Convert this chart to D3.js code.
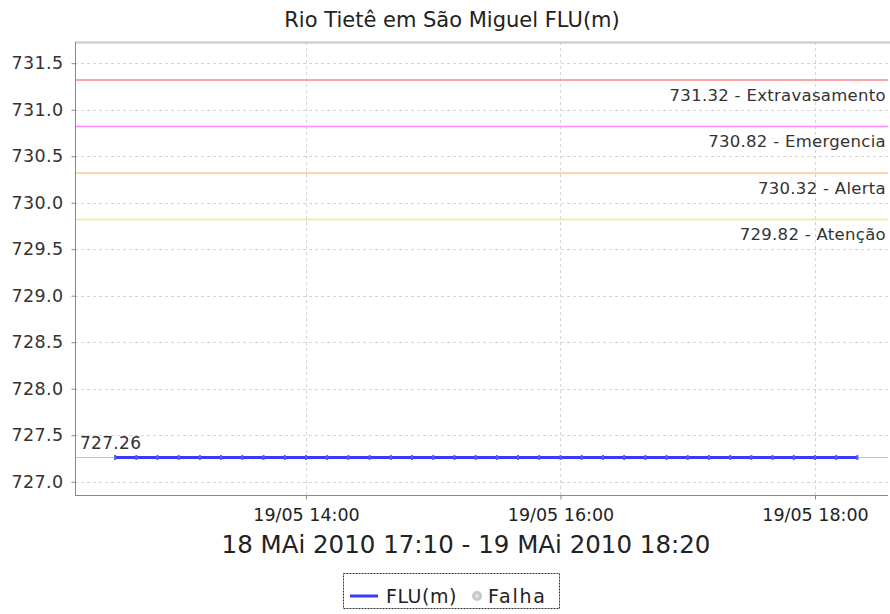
<!DOCTYPE html>
<html>
<head>
<meta charset="utf-8">
<script src="https://cdn.jsdelivr.net/npm/d3@7"></script>
<style>
  html, body { margin: 0; padding: 0; background: #fff; }
  svg { display: block; }
  text { font-family: "DejaVu Sans", "Liberation Sans", sans-serif; }
</style>
</head>
<body>
<svg id="chart" width="890" height="614"></svg>
<script>
// ---- data ----
const chartTitle = "Rio Tietê em São Miguel FLU(m)";
const periodLabel = "18 MAi 2010 17:10 - 19 MAi 2010 18:20";
const seriesName = "FLU(m)";
const failName = "Falha";
const startTime = "2010-05-19T12:30:00";
const stepMinutes = 10;
const fluValues = [727.26,727.26,727.26,727.26,727.26,727.26,727.26,727.26,727.26,727.26,
                   727.26,727.26,727.26,727.26,727.26,727.26,727.26,727.26,727.26,727.26,
                   727.26,727.26,727.26,727.26,727.26,727.26,727.26,727.26,727.26,727.26,
                   727.26,727.26,727.26,727.26,727.26,727.26];
const lastValue = 727.26;
const thresholdValues = [731.32, 730.82, 730.32, 729.82];
const thresholdNames = ["Extravasamento", "Emergencia", "Alerta", "Atenção"];
const thresholdColors = ["#ff8a8a", "#ff88ff", "#ffc890", "#f4ec80"];
const yTicks = [727.0, 727.5, 728.0, 728.5, 729.0, 729.5, 730.0, 730.5, 731.0, 731.5];
const xTicks = ["2010-05-19T14:00:00", "2010-05-19T16:00:00", "2010-05-19T18:00:00"];
const xDomain = ["2010-05-19T12:11:06", "2010-05-19T18:34:25"];
const yDomain = [726.857, 731.728];

// ---- layout ----
const svg = d3.select("#chart");
const pLeft = 75, pRight = 888, pTop = 42, pBottom = 495;

const x = d3.scaleTime().domain(xDomain.map(d => new Date(d))).range([pLeft, pRight]);
const y = d3.scaleLinear().domain(yDomain).range([pBottom, pTop]);

const t0 = new Date(startTime).getTime();
const data = fluValues.map((v, i) => ({ t: new Date(t0 + i * stepMinutes * 60000), v }));

// gridlines
const grid = svg.append("g");
grid.selectAll(".gy").data(yTicks).join("line")
  .attr("x1", pLeft).attr("x2", pRight)
  .attr("y1", d => Math.round(y(d)) + 0.5).attr("y2", d => Math.round(y(d)) + 0.5)
  .attr("stroke", "#d4d4d4").attr("stroke-width", 1).attr("stroke-dasharray", "3,3");
grid.selectAll(".gx").data(xTicks).join("line")
  .attr("x1", d => Math.round(x(new Date(d))) + 0.5).attr("x2", d => Math.round(x(new Date(d))) + 0.5)
  .attr("y1", pTop).attr("y2", pBottom)
  .attr("stroke", "#d4d4d4").attr("stroke-width", 1).attr("stroke-dasharray", "3,3");

// top border
svg.append("line").attr("x1", pLeft).attr("x2", 890).attr("y1", pTop + 0.5).attr("y2", pTop + 0.5)
  .attr("stroke", "#c8c8c8").attr("stroke-width", 2);

// threshold lines + labels
const th = svg.append("g");
th.selectAll("line").data(thresholdValues).join("line")
  .attr("x1", pLeft).attr("x2", pRight)
  .attr("y1", d => y(d)).attr("y2", d => y(d))
  .attr("stroke", (d, i) => thresholdColors[i]).attr("stroke-width", 1.6);
th.selectAll("text").data(thresholdValues).join("text")
  .attr("x", 886).attr("y", d => y(d) + 21)
  .attr("text-anchor", "end").attr("font-size", 16.5).attr("fill", "#333")
  .attr("letter-spacing", 0.3)
  .text((d, i) => d3.format(".2f")(d) + " - " + thresholdNames[i]);

// last value reference line
svg.append("line").attr("x1", pLeft).attr("x2", pRight)
  .attr("y1", y(lastValue)).attr("y2", y(lastValue))
  .attr("stroke", "#c4c4c4").attr("stroke-width", 1.2);
svg.append("text").attr("x", 80).attr("y", y(lastValue) - 9)
  .attr("font-size", 17).attr("fill", "#333").attr("letter-spacing", 0.3)
  .text(d3.format(".2f")(lastValue));

// series line
const line = d3.line().x(d => x(d.t)).y(d => y(d.v));
svg.append("path").datum(data).attr("d", line)
  .attr("fill", "none").attr("stroke", "#3a3aff").attr("stroke-width", 3);
svg.append("g").selectAll("rect").data(data).join("rect")
  .attr("x", d => x(d.t) - 1).attr("y", d => y(d.v) - 2.5)
  .attr("width", 2).attr("height", 5)
  .attr("fill", "#5a5aff");

// axes
const yAxis = d3.axisLeft(y).tickValues(yTicks).tickSize(4).tickPadding(8).tickFormat(d3.format(".1f"));
const gy = svg.append("g").attr("transform", `translate(${pLeft + 0.5},0)`).call(yAxis);
gy.select(".domain").attr("stroke", "#888").attr("d", `M0,${pTop}V${pBottom}`);
gy.selectAll(".tick line").attr("stroke", "#888");
gy.selectAll(".tick text").attr("font-size", 17.5).attr("fill", "#333")
  .attr("letter-spacing", 0.4).attr("font-family", '"DejaVu Sans", sans-serif');

const xAxis = d3.axisBottom(x).tickValues(xTicks.map(d => new Date(d))).tickSize(4)
  .tickFormat(d3.timeFormat("%d/%m %H:%M"));
const gx = svg.append("g").attr("transform", `translate(0,${pBottom + 0.5})`).call(xAxis);
gx.select(".domain").attr("stroke", "#888").attr("d", `M${pLeft},0H${pRight}`);
gx.selectAll(".tick line").attr("stroke", "#888");
gx.selectAll(".tick text").attr("font-size", 17.5).attr("fill", "#222")
  .attr("y", 25).attr("dy", 0).attr("font-family", '"DejaVu Sans", sans-serif');

// title and period
svg.append("text").attr("x", 452).attr("y", 27).attr("text-anchor", "middle")
  .attr("font-size", 21).attr("fill", "#222").text(chartTitle);
svg.append("text").attr("x", 466).attr("y", 553).attr("text-anchor", "middle")
  .attr("font-size", 24.5).attr("fill", "#222").text(periodLabel);

// legend
const lg = svg.append("g");
lg.append("rect").attr("x", 343.5).attr("y", 573.5).attr("width", 216).attr("height", 35)
  .attr("fill", "#fff").attr("stroke", "#333").attr("stroke-dasharray", "2,1");
lg.append("line").attr("x1", 350).attr("x2", 378).attr("y1", 596).attr("y2", 596)
  .attr("stroke", "#3a3aff").attr("stroke-width", 3);
lg.append("text").attr("x", 386).attr("y", 603).attr("font-size", 19).attr("fill", "#222")
  .attr("letter-spacing", 0.5).text(seriesName);
lg.append("circle").attr("cx", 477).attr("cy", 596).attr("r", 5).attr("fill", "#c8c8c8");
lg.append("circle").attr("cx", 477).attr("cy", 596).attr("r", 2).attr("fill", "#e2e2e2");
lg.append("text").attr("x", 488).attr("y", 603).attr("font-size", 19).attr("fill", "#222")
  .attr("letter-spacing", 1.8).text(failName);
</script>
</body>
</html>
